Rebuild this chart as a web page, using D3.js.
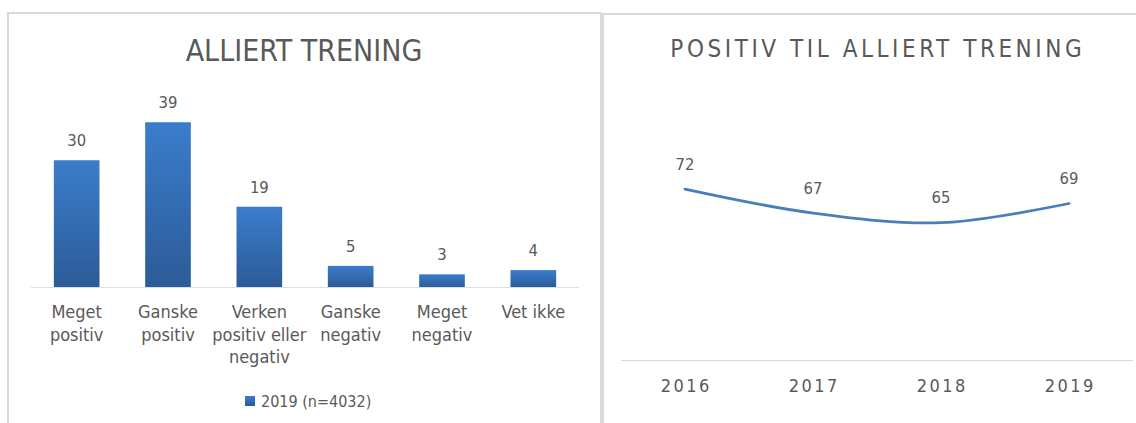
<!DOCTYPE html>
<html>
<head>
<meta charset="utf-8">
<script src="https://cdn.jsdelivr.net/npm/d3@7"></script>
<style>
  body { margin: 0; background: #fff; }
  svg { display: block; }
  text { font-family: "DejaVu Sans Condensed", "Open Sans", sans-serif; fill: #595959; }
</style>
</head>
<body>
<svg id="chart" width="1136" height="423"></svg>
<script>
const barCategories = [
  ["Meget", "positiv"],
  ["Ganske", "positiv"],
  ["Verken", "positiv eller", "negativ"],
  ["Ganske", "negativ"],
  ["Meget", "negativ"],
  ["Vet ikke"]
];
const barValues = [30, 39, 19, 5, 3, 4];
const barSeriesName = "2019 (n=4032)";

const years = ["2016", "2017", "2018", "2019"];
const positiveShare = [72, 67, 65, 69];

const svg = d3.select("#chart");

// panel frames
svg.append("rect")
  .attr("x", 8).attr("y", 13).attr("width", 593).attr("height", 430)
  .attr("fill", "none").attr("stroke", "#d9d9d9").attr("stroke-width", 2);
svg.append("rect")
  .attr("x", 603).attr("y", 14).attr("width", 560).attr("height", 430)
  .attr("fill", "none").attr("stroke", "#d9d9d9").attr("stroke-width", 2);

const defs = svg.append("defs");
const grad = defs.append("linearGradient")
  .attr("id", "barGrad").attr("x1", 0).attr("y1", 0).attr("x2", 0).attr("y2", 1);
grad.append("stop").attr("offset", "0%").attr("stop-color", "#3b7dcc");
grad.append("stop").attr("offset", "100%").attr("stop-color", "#2c5b97");

// ---- left: bar chart ----
const left = svg.append("g");

left.append("text")
  .attr("x", 304).attr("y", 61)
  .attr("text-anchor", "middle")
  .style("font-size", "30px")
  .text("ALLIERT TRENING");

const x = d3.scaleBand()
  .domain(d3.range(barValues.length))
  .range([31, 579])
  .paddingInner(0.5)
  .paddingOuter(0.25);

const baseY = 287;
const y = d3.scaleLinear().domain([0, 45]).range([baseY, baseY - 45 * 4.225]);

left.append("g")
  .selectAll("rect")
  .data(barValues)
  .join("rect")
  .attr("x", (d, i) => x(i))
  .attr("y", d => y(d))
  .attr("width", x.bandwidth())
  .attr("height", d => y(0) - y(d))
  .attr("fill", "url(#barGrad)");

left.append("line")
  .attr("x1", 31).attr("x2", 579)
  .attr("y1", baseY + 0.5).attr("y2", baseY + 0.5)
  .attr("stroke", "#d6dfee").attr("stroke-width", 1);

left.append("g")
  .selectAll("text")
  .data(barValues)
  .join("text")
  .attr("x", (d, i) => x(i) + x.bandwidth() / 2)
  .attr("y", d => y(d) - 14)
  .attr("text-anchor", "middle")
  .style("font-size", "16.5px")
  .text(d => d);

const catLabels = left.append("g")
  .selectAll("text")
  .data(barCategories)
  .join("text")
  .attr("text-anchor", "middle")
  .style("font-size", "18px");
catLabels.selectAll("tspan")
  .data((d, i) => d.map(line => ({ line, i })))
  .join("tspan")
  .attr("x", d => x(d.i) + x.bandwidth() / 2)
  .attr("y", (d, j) => 318 + j * 22.5)
  .text(d => d.line);

// legend
left.append("rect")
  .attr("x", 245).attr("y", 396).attr("width", 10).attr("height", 10)
  .attr("fill", "url(#barGrad)");
left.append("text")
  .attr("x", 261).attr("y", 407)
  .style("font-size", "16px")
  .text(barSeriesName);

// ---- right: line chart ----
const right = svg.append("g");

right.append("text")
  .attr("x", 876 + 1.8).attr("y", 57)
  .attr("text-anchor", "middle")
  .style("font-size", "24px")
  .style("letter-spacing", "3.55px")
  .text("POSITIV TIL ALLIERT TRENING");

const x2 = d3.scaleBand().domain(years).range([621, 1133]);
const axisY = 360;
const y2 = d3.scaleLinear().domain([36.4, 80]).range([axisY, axisY - 43.6 * 4.8]);

right.append("line")
  .attr("x1", 621).attr("x2", 1133)
  .attr("y1", axisY + 0.5).attr("y2", axisY + 0.5)
  .attr("stroke", "#d9d9d9").attr("stroke-width", 1);

const line = d3.line()
  .x((d, i) => x2(years[i]) + x2.bandwidth() / 2)
  .y(d => y2(d))
  .curve(d3.curveCardinal);

right.append("path")
  .datum(positiveShare)
  .attr("fill", "none")
  .attr("stroke", "#4a7ebb")
  .attr("stroke-width", 2.75)
  .attr("stroke-linecap", "round")
  .attr("d", line);

right.append("g")
  .selectAll("text")
  .data(positiveShare)
  .join("text")
  .attr("x", (d, i) => x2(years[i]) + x2.bandwidth() / 2)
  .attr("y", d => y2(d) - 19.5)
  .attr("text-anchor", "middle")
  .style("font-size", "16.5px")
  .text(d => d);

right.append("g")
  .selectAll("text")
  .data(years)
  .join("text")
  .attr("x", d => x2(d) + x2.bandwidth() / 2 + 1.2)
  .attr("y", 392)
  .attr("text-anchor", "middle")
  .style("font-size", "18px")
  .style("letter-spacing", "2.4px")
  .text(d => d);
</script>
</body>
</html>
